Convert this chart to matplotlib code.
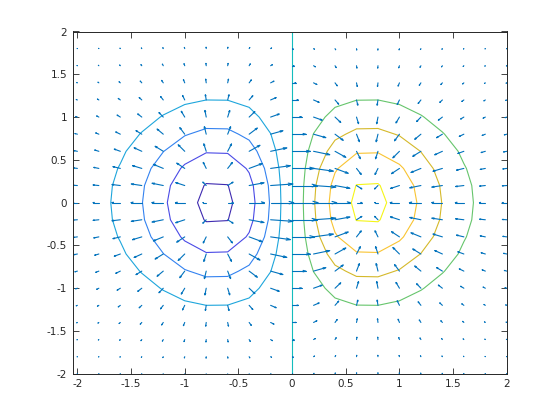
import numpy as np
import matplotlib
matplotlib.use("Agg")
import matplotlib.pyplot as plt
from matplotlib.collections import LineCollection

# grid used for both the contour and the gradient arrows (step 0.2)
grid_x = [-2.0, -1.8, -1.6, -1.4, -1.2, -1.0, -0.8, -0.6, -0.4, -0.2, 0.0,
          0.2, 0.4, 0.6, 0.8, 1.0, 1.2, 1.4, 1.6, 1.8, 2.0]
grid_y = [-2.0, -1.8, -1.6, -1.4, -1.2, -1.0, -0.8, -0.6, -0.4, -0.2, 0.0,
          0.2, 0.4, 0.6, 0.8, 1.0, 1.2, 1.4, 1.6, 1.8, 2.0]
step = 0.2
levels = [-0.4, -0.3, -0.2, -0.1, 0.0, 0.1, 0.2, 0.3, 0.4]
ticks = [-2, -1.5, -1, -0.5, 0, 0.5, 1, 1.5, 2]

# colors of the contour lines (parula-like)
level_colors = ['#3e2ab0', '#4a4ae6', '#3382f0', '#1ea6dc', '#13bdbd',
                '#66c56c', '#d5b92a', '#f9c432', '#f5f518']

plt.rcParams['axes.unicode_minus'] = False
plt.rcParams['font.family'] = 'DejaVu Sans'

X, Y = np.meshgrid(grid_x, grid_y)
Z = X * np.exp(-X**2 - Y**2)
DY, DX = np.gradient(Z, step, step)

fig = plt.figure(figsize=(5.6, 4.2), dpi=100)
ax = fig.add_axes([0.13, 0.11, 0.775, 0.815])

ax.contour(X, Y, Z, levels=levels, colors=level_colors, linewidths=0.8)

# octave style quiver, autoscaled to the grid spacing
dx = (max(grid_x) - min(grid_x)) / len(grid_x)
dy = (max(grid_y) - min(grid_y)) / len(grid_y)
mag = np.sqrt(DX**2 + DY**2)
s = 0.9 * np.sqrt(dx**2 + dy**2) / mag.max()
u = DX * s
v = DY * s
xe = X + u
ye = Y + v
asz = 0.2
xt = X + u * (1 - asz)
yt = Y + v * (1 - asz)
xa1 = xt - v * asz / 3
xa2 = xt + v * asz / 3
ya1 = yt + u * asz / 3
ya2 = yt - u * asz / 3
segs = []
for i in range(X.shape[0]):
    for j in range(X.shape[1]):
        segs.append([(X[i, j], Y[i, j]), (xe[i, j], ye[i, j])])
        segs.append([(xa1[i, j], ya1[i, j]), (xe[i, j], ye[i, j]),
                     (xa2[i, j], ya2[i, j])])
lc = LineCollection(segs, colors='#0072bd', linewidths=0.8, capstyle='round')
ax.add_collection(lc)

ax.set_xlim(xe.min(), 2)
ax.set_ylim(-2, 2)
ax.set_xticks(ticks)
ax.set_yticks(ticks)
ax.set_xticklabels([str(t) for t in ticks])
ax.set_yticklabels([str(t) for t in ticks])
ax.tick_params(direction='in', length=4, width=0.6, top=True, right=True,
               labelsize=7.5, colors='#262626', pad=4)
for sp in ax.spines.values():
    sp.set_linewidth(0.7)
    sp.set_color('#262626')

fig.savefig('out.png', dpi=100)
